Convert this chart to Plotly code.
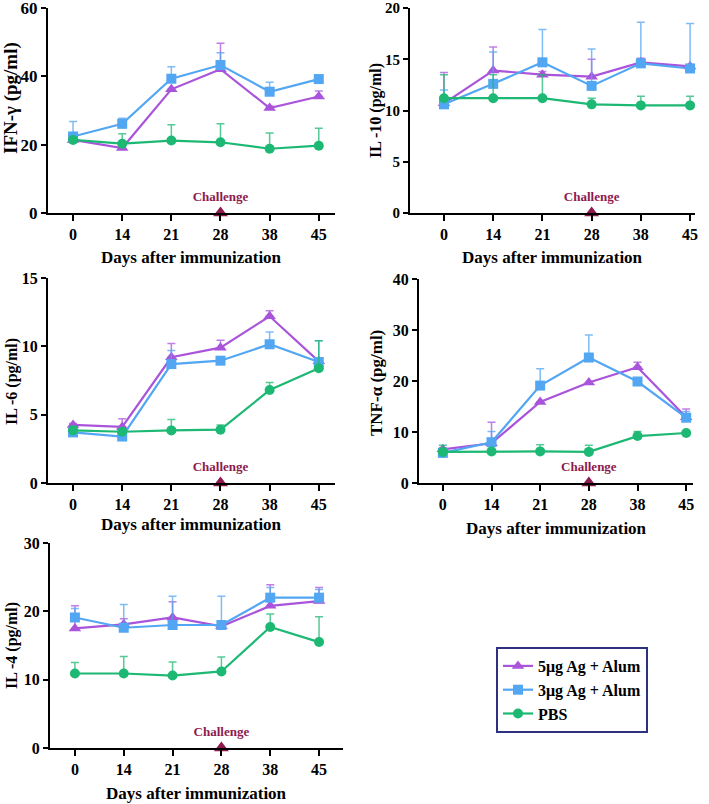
import plotly.graph_objects as go

days = ["0", "14", "21", "28", "38", "45"]
series_names = ["5μg Ag + Alum", "3μg Ag + Alum", "PBS"]

# IFN-gamma
ifn_5 = [21.4, 19.0, 36.2, 42.1, 30.7, 34.1]
ifn_5_err = [0.0, 1.4, 0.0, 7.6, 0.6, 1.6]
ifn_3 = [22.4, 26.1, 39.3, 43.3, 35.5, 39.2]
ifn_3_err = [4.4, 1.6, 3.5, 3.6, 2.8, 0.0]
ifn_p = [21.4, 20.3, 21.2, 20.7, 18.8, 19.7]
ifn_p_err = [0.0, 2.9, 4.6, 5.4, 4.6, 5.1]

# IL-10
il10_5 = [10.7, 13.9, 13.5, 13.3, 14.7, 14.3]
il10_5_err = [3.0, 2.3, 0.3, 1.7, 0.4, 0.2]
il10_3 = [10.6, 12.6, 14.7, 12.4, 14.6, 14.1]
il10_3_err = [1.4, 3.1, 3.2, 3.6, 4.0, 4.4]
il10_p = [11.2, 11.2, 11.2, 10.6, 10.5, 10.5]
il10_p_err = [2.3, 2.3, 2.3, 0.6, 0.9, 0.9]

# IL-6
il6_5 = [4.25, 4.1, 9.2, 9.9, 12.2, 8.9]
il6_5_err = [0.1, 0.6, 1.0, 0.55, 0.4, 0.0]
il6_3 = [3.7, 3.4, 8.7, 8.95, 10.15, 8.85]
il6_3_err = [0.2, 0.3, 1.0, 0.0, 0.9, 1.55]
il6_p = [3.85, 3.75, 3.85, 3.9, 6.8, 8.4]
il6_p_err = [0.3, 0.2, 0.8, 0.35, 0.55, 2.0]

# TNF-alpha
tnf_5 = [6.6, 7.8, 15.9, 19.7, 22.7, 12.9]
tnf_5_err = [0.3, 4.1, 0.0, 0.0, 1.0, 1.6]
tnf_3 = [5.9, 8.0, 19.1, 24.6, 19.9, 12.8]
tnf_3_err = [0.3, 2.1, 3.3, 4.4, 0.0, 1.2]
tnf_p = [6.1, 6.2, 6.2, 6.1, 9.2, 9.8]
tnf_p_err = [1.3, 0.0, 1.3, 1.3, 0.9, 0.0]

# IL-4
il4_5 = [17.5, 18.1, 19.1, 17.8, 20.8, 21.5]
il4_5_err = [3.3, 0.8, 2.3, 0.0, 3.1, 2.0]
il4_3 = [19.1, 17.6, 18.0, 18.0, 22.0, 22.0]
il4_3_err = [1.3, 3.4, 4.2, 4.2, 1.5, 1.2]
il4_p = [10.9, 10.9, 10.6, 11.2, 17.7, 15.5]
il4_p_err = [1.6, 2.5, 2.0, 2.1, 1.9, 3.7]

y_titles = ["IFN-γ (pg/ml)", "IL -10 (pg/ml)", "IL -6 (pg/ml)", "TNF-α (pg/ml)", "IL -4 (pg/ml)"]
y_title_sizes = [19, 16, 16, 17, 16]
y_tick_sizes = [17, 15, 16, 16, 16]
y_maxes = [60, 20, 15, 40, 30]
y_dticks = [20, 5, 5, 10, 10]

panels = [
    (ifn_5, ifn_5_err, ifn_3, ifn_3_err, ifn_p, ifn_p_err),
    (il10_5, il10_5_err, il10_3, il10_3_err, il10_p, il10_p_err),
    (il6_5, il6_5_err, il6_3, il6_3_err, il6_p, il6_p_err),
    (tnf_5, tnf_5_err, tnf_3, tnf_3_err, tnf_p, tnf_p_err),
    (il4_5, il4_5_err, il4_3, il4_3_err, il4_p, il4_p_err),
]

W, H = 709, 804
# pixel layout: (x_left, x_right, y_top, y_bottom, x_range_lo, x_range_hi, ytitle_x, ytitle_y, xtitle_y)
geo = [
    (48, 335, 8, 213, -0.51, 5.33, 11, 98, 258),
    (410, 695, 8, 213, -0.69, 5.1, 376, 110, 258),
    (48, 335, 278, 483, -0.51, 5.33, 12, 382, 524),
    (419, 693, 279, 483, -0.49, 5.14, 376, 383, 528),
    (50, 343, 543, 748, -0.51, 5.49, 12, 646, 793),
]

colors = ["#A954DB", "#52A6F2", "#1DB873"]
err_colors = ["rgba(169,84,219,0.75)", "rgba(82,166,242,0.75)", "rgba(29,184,115,0.75)"]
symbols = ["triangle-up", "square", "circle"]
msizes = [11, 10, 10]
challenge_color = "#8E1A4E"
font_family = "Liberation Serif"

xpos = list(range(len(days)))

fig = go.Figure()
annotations = []
layout_axes = {}

for i, (vals, g) in enumerate(zip(panels, geo)):
    xl, xr, yt, yb, rlo, rhi, ytx, yty, xty = g
    idx = "" if i == 0 else str(i + 1)
    xa = "x" + idx
    ya = "y" + idx
    for s in range(3):
        y = vals[2 * s]
        e = vals[2 * s + 1]
        fig.add_trace(go.Scatter(
            x=xpos, y=y, mode="lines+markers",
            name=series_names[s],
            showlegend=(i == 0),
            legendrank=s + 1,
            line=dict(color=colors[s], width=2.2),
            marker=dict(symbol=symbols[s], size=msizes[s], color=colors[s]),
            error_y=dict(type="data", symmetric=False, array=e, arrayminus=[0] * len(e),
                         color=err_colors[s], thickness=1.5, width=4),
            xaxis=xa, yaxis=ya, cliponaxis=False,
        ))
    # challenge marker
    fig.add_trace(go.Scatter(
        x=[3], y=[0], mode="markers+text", text=["Challenge"], textposition="top center",
        textfont=dict(family=font_family, size=13, color=challenge_color, weight="bold"),
        marker=dict(symbol="triangle-up", size=13, color=challenge_color),
        showlegend=False, xaxis=xa, yaxis=ya, cliponaxis=False,
    ))
    layout_axes["xaxis" + idx] = dict(
        domain=[xl / W, xr / W], anchor=ya, range=[rlo, rhi], automargin=False,
        ticklabeloverflow="allow",
        tickvals=xpos, ticktext=days, showline=True, linecolor="black", linewidth=2,
        ticks="outside", ticklen=6, tickwidth=2, tickcolor="black", showgrid=False,
        zeroline=False, tickfont=dict(family=font_family, size=16, color="black", weight="bold"),
    )
    layout_axes["yaxis" + idx] = dict(
        domain=[1 - yb / H, 1 - yt / H], anchor=xa, range=[0, y_maxes[i]], automargin=False,
        ticklabeloverflow="allow",
        dtick=y_dticks[i], showline=True, linecolor="black", linewidth=2,
        ticks="outside", ticklen=5, tickwidth=2, tickcolor="black", showgrid=False,
        zeroline=False, tickfont=dict(family=font_family, size=y_tick_sizes[i], color="black", weight="bold"),
    )
    annotations.append(dict(
        text="<b>Days after immunization</b>", x=(xl + xr) / 2 / W,
        y=1 - xty / H, xref="paper", yref="paper", showarrow=False,
        font=dict(family=font_family, size=17, color="black"), xanchor="center", yanchor="middle",
    ))
    annotations.append(dict(
        text="<b>" + y_titles[i] + "</b>", x=ytx / W, y=1 - yty / H, xref="paper", yref="paper",
        showarrow=False, textangle=-90,
        font=dict(family=font_family, size=y_title_sizes[i], color="black"), xanchor="center", yanchor="middle",
    ))

fig.update_layout(
    width=W, height=H, margin=dict(l=0, r=0, t=0, b=0, autoexpand=False),
    paper_bgcolor="white", plot_bgcolor="white",
    font=dict(family=font_family, size=15, color="black"),
    annotations=annotations,
    legend=dict(x=496 / W, y=1 - 647 / H, xanchor="left", yanchor="top",
                bordercolor="#2E3180", borderwidth=2, bgcolor="white",
                font=dict(family=font_family, size=16, color="black", weight="bold"),
                itemwidth=30, tracegroupgap=0),
    **layout_axes,
)

post = "document.body.style.margin='0';document.body.style.padding='0';"
fig.write_html("out.html", config={"displayModeBar": False}, post_script=post)
